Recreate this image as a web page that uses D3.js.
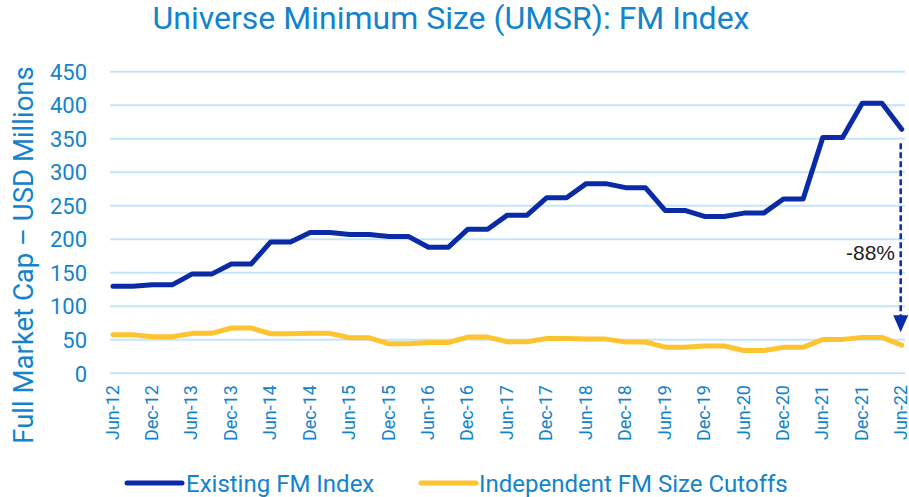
<!DOCTYPE html>
<html><head><meta charset="utf-8">
<script src="https://cdn.jsdelivr.net/npm/d3@7"></script>
<style>
body{margin:0;background:#fff;}
svg text{font-family:Roboto,"Liberation Sans",Arial,sans-serif;}
</style></head>
<body><svg id="chart" width="909" height="497"></svg>
<script>
const quarters = ["Jun-12","Sep-12","Dec-12","Mar-13","Jun-13","Sep-13","Dec-13","Mar-14","Jun-14","Sep-14","Dec-14","Mar-15","Jun-15","Sep-15","Dec-15","Mar-16","Jun-16","Sep-16","Dec-16","Mar-17","Jun-17","Sep-17","Dec-17","Mar-18","Jun-18","Sep-18","Dec-18","Mar-19","Jun-19","Sep-19","Dec-19","Mar-20","Jun-20","Sep-20","Dec-20","Mar-21","Jun-21","Sep-21","Dec-21","Mar-22","Jun-22"];
const existingFM = [130,130,132,132,148,148,163,163,196,196,210,210,207,207,204,204,188,188,215,215,236,236,262,262,283,283,277,277,243,243,234,234,239,239,260,260,352,352,403,403,364];
const independentFM = [57.6,57.6,54.6,54.6,59.6,59.6,67.6,67.6,59,59,59.6,59.6,53,53,44,44,46,46,54,54,47,47,52,52,51,51,46.7,46.7,39,39,40.7,40.7,34,34,38.7,38.7,50.6,50.6,53.6,53.6,42];
const tickLabels = ["Jun-12","Dec-12","Jun-13","Dec-13","Jun-14","Dec-14","Jun-15","Dec-15","Jun-16","Dec-16","Jun-17","Dec-17","Jun-18","Dec-18","Jun-19","Dec-19","Jun-20","Dec-20","Jun-21","Dec-21","Jun-22"];
const yTicks = [0,50,100,150,200,250,300,350,400,450];
const seriesNames = ["Existing FM Index","Independent FM Size Cutoffs"];
const annotationText = "-88%";

const svg = d3.select("#chart");
const blue = "#0a2aa6", yellow = "#fec42f", textBlue = "#1283cc", grid = "#c4e4f8";

const x = d3.scalePoint().domain(quarters).range([113, 901.7]);
const y = d3.scaleLinear().domain([0, 450]).range([373.3, 71.7]);

// gridlines
svg.append("g").selectAll("line").data(yTicks).join("line")
  .attr("x1", 110).attr("x2", 905)
  .attr("y1", d => y(d)).attr("y2", d => y(d))
  .attr("stroke", grid).attr("stroke-width", 2);

// y axis
const yAxis = svg.append("g").attr("transform", "translate(87,0)")
  .call(d3.axisLeft(y).tickValues(yTicks).tickSize(0).tickPadding(0));
yAxis.select(".domain").remove();
yAxis.selectAll("text").attr("fill", textBlue).attr("font-size", 22).attr("dy", "0.35em");

// x axis
const xAxis = svg.append("g").attr("transform", "translate(0,385)")
  .call(d3.axisBottom(x).tickValues(tickLabels).tickSize(0).tickPadding(0));
xAxis.select(".domain").remove();
xAxis.selectAll("text")
  .attr("fill", textBlue).attr("font-size", 18)
  .attr("text-anchor", "end")
  .attr("transform", "rotate(-90)")
  .attr("x", 0).attr("y", 0).attr("dy", "0.28em");

// lines
const line = d3.line().x((d, i) => x(quarters[i])).y(d => y(d));
svg.append("path").datum(independentFM).attr("d", line)
  .attr("fill", "none").attr("stroke", yellow).attr("stroke-width", 5)
  .attr("stroke-linejoin", "round").attr("stroke-linecap", "round");
svg.append("path").datum(existingFM).attr("d", line)
  .attr("fill", "none").attr("stroke", blue).attr("stroke-width", 5)
  .attr("stroke-linejoin", "round").attr("stroke-linecap", "round");

// annotation arrow
const last = quarters.length - 1;
const ax = x(quarters[last]) - 1;
const yStart = y(existingFM[last]) + 14;
const yTip = y(independentFM[last]) - 13;
svg.append("line").attr("x1", ax).attr("x2", ax)
  .attr("y1", yStart).attr("y2", yTip - 14)
  .attr("stroke", blue).attr("stroke-width", 2.5).attr("stroke-dasharray", "6,3");
svg.append("path")
  .attr("d", `M${ax-7.5},${yTip-17} L${ax+7.5},${yTip-17} L${ax},${yTip} Z`)
  .attr("fill", blue);
svg.append("text").attr("x", 895).attr("y", 259.5).attr("text-anchor", "end")
  .attr("font-size", 21).attr("fill", "#222")
  .style("font-family", "'Liberation Sans',Arial,sans-serif")
  .text(annotationText);

// title
svg.append("text").attr("x", 451).attr("y", 29).attr("text-anchor", "middle")
  .attr("font-size", 32).attr("fill", textBlue)
  .text("Universe Minimum Size (UMSR): FM Index");

// y title
svg.append("text").attr("transform", "translate(33,255) rotate(-90)")
  .attr("text-anchor", "middle").attr("font-size", 27.5).attr("fill", textBlue)
  .text("Full Market Cap \u2013 USD Millions");

// legend
const legend = [{name: seriesNames[0], color: blue, x1: 127, x2: 182, tx: 186},
                {name: seriesNames[1], color: yellow, x1: 421, x2: 476, tx: 479}];
const lg = svg.append("g").selectAll("g").data(legend).join("g");
lg.append("line").attr("x1", d => d.x1).attr("x2", d => d.x2)
  .attr("y1", 483).attr("y2", 483).attr("stroke", d => d.color)
  .attr("stroke-width", 5).attr("stroke-linecap", "round");
lg.append("text").attr("x", d => d.tx).attr("y", 491.5).attr("font-size", 24)
  .attr("fill", textBlue).text(d => d.name);
</script></body></html>
